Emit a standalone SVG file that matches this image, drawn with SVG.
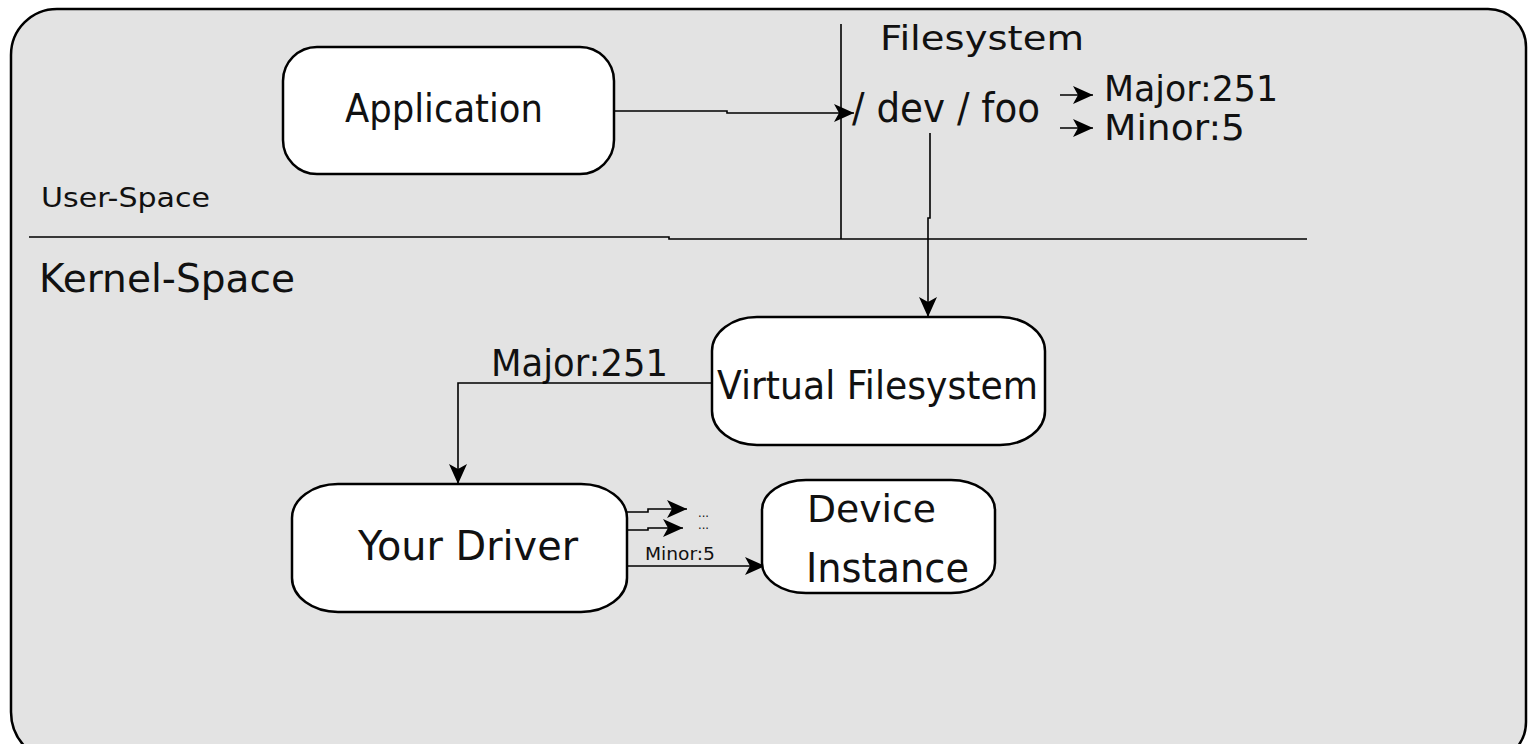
<svg xmlns="http://www.w3.org/2000/svg" width="1528" height="744" viewBox="0 0 1528 744">
<defs>
<style>
.t{font-family:"DejaVu Sans","Liberation Sans",sans-serif;fill:#111;}
.box{fill:#fff;stroke:#000;stroke-width:2.5;}
.c{fill:none;stroke:#000;stroke-width:1.6;}
</style>
<marker id="ah" markerUnits="userSpaceOnUse" markerWidth="22" markerHeight="20" refX="20" refY="9" orient="auto" viewBox="0 0 22 20">
<path d="M0,0 L20,9 L0,18 L5,9 Z" fill="#000"/>
</marker>
</defs>
<rect width="1528" height="744" fill="#fff"/>
<g id="container">
<path d="M11,55 A46,46 0 0 1 57,9 H1488 A38,38 0 0 1 1526,47 V722 A40,40 0 0 1 1486,762 H61 A50,50 0 0 1 11,712 Z" fill="#e3e3e3" stroke="#000" stroke-width="2.5"/>
</g>
<g id="dividers">
<path class="c" d="M29,237 H669 V239 H1307"/>
<path class="c" d="M841,24 V239"/>
</g>
<g id="labels">
<text class="t" x="41" y="207" font-size="27" textLength="169" lengthAdjust="spacingAndGlyphs">User-Space</text>
<text class="t" x="39" y="292" font-size="39" textLength="256" lengthAdjust="spacingAndGlyphs">Kernel-Space</text>
<text class="t" x="880" y="50" font-size="34" textLength="204" lengthAdjust="spacingAndGlyphs">Filesystem</text>
<text class="t" x="852" y="122" font-size="40" textLength="188" lengthAdjust="spacingAndGlyphs">/ dev / foo</text>
<text class="t" x="1104" y="101" font-size="35" textLength="174" lengthAdjust="spacingAndGlyphs">Major:251</text>
<text class="t" x="1104" y="140" font-size="35" textLength="141" lengthAdjust="spacingAndGlyphs">Minor:5</text>
<text class="t" x="491" y="376" font-size="38" textLength="177" lengthAdjust="spacingAndGlyphs">Major:251</text>
<text class="t" x="645" y="560" font-size="18" textLength="70" lengthAdjust="spacingAndGlyphs">Minor:5</text>
<text class="t" x="698" y="517" font-size="12" textLength="11" lengthAdjust="spacingAndGlyphs">...</text>
<text class="t" x="698" y="529" font-size="12" textLength="11" lengthAdjust="spacingAndGlyphs">...</text>
</g>
<g id="connectors">
<path class="c" d="M614,111 H727 V113 H854" marker-end="url(#ah)"/>
<path class="c" d="M930,133 V218 H928 V317" marker-end="url(#ah)"/>
<path class="c" d="M1060,95 H1093" marker-end="url(#ah)"/>
<path class="c" d="M1060,128 H1093" marker-end="url(#ah)"/>
<path class="c" d="M712,383 H458 V484" marker-end="url(#ah)"/>
<path class="c" d="M625,512 H648 V509 H687" marker-end="url(#ah)"/>
<path class="c" d="M625,530 H648 V528 H683" marker-end="url(#ah)"/>
<path class="c" d="M625,566 H765" marker-end="url(#ah)"/>
</g>
<g id="application">
<rect class="box" x="283" y="47" width="331" height="127" rx="34" ry="34"/>
<text class="t" x="345" y="122" font-size="39" textLength="198" lengthAdjust="spacingAndGlyphs">Application</text>
</g>
<g id="vfs">
<rect class="box" x="712" y="317" width="333" height="128" rx="45" ry="34"/>
<text class="t" x="717" y="399" font-size="39" textLength="321" lengthAdjust="spacingAndGlyphs">Virtual Filesystem</text>
</g>
<g id="driver">
<rect class="box" x="292" y="484" width="335" height="128" rx="46" ry="34"/>
<text class="t" x="358" y="560" font-size="41" textLength="220" lengthAdjust="spacingAndGlyphs">Your Driver</text>
</g>
<g id="device">
<rect class="box" x="762" y="480" width="233" height="113" rx="44" ry="30"/>
<text class="t" x="807" y="522" font-size="37" textLength="129" lengthAdjust="spacingAndGlyphs">Device</text>
<text class="t" x="806" y="582" font-size="40" textLength="163" lengthAdjust="spacingAndGlyphs">Instance</text>
</g>
</svg>
